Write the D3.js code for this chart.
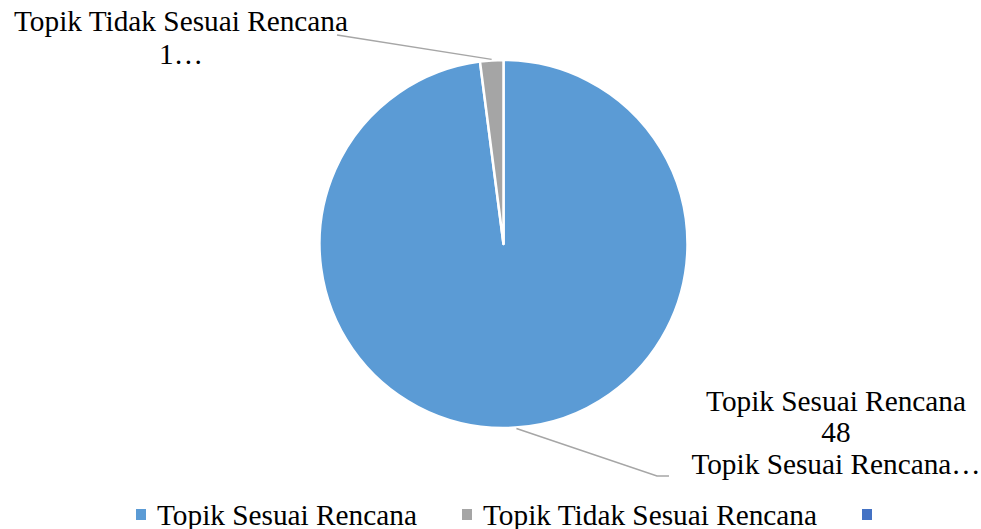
<!DOCTYPE html>
<html><head><meta charset="utf-8">
<script src="https://cdn.jsdelivr.net/npm/d3@7"></script>
<style>body{margin:0;background:#fff}svg{display:block}</style>
</head><body>
<svg id="c" width="981" height="529" font-family="Liberation Serif"></svg>
<script>
const categories = ["Topik Sesuai Rencana", "Topik Tidak Sesuai Rencana", ""];
const values = [48, 1, 0];
const colors = ["#5B9BD5", "#A5A5A5", "#4472C4"];

const svg = d3.select("#c");
const fs = 29.3;
const cx = 503.5, cy = 244, r = 184;

const pie = d3.pie().sort(null).value(d => d.v);
const data = pie(categories.map((c, i) => ({c, v: values[i], col: colors[i]})));
const arc = d3.arc().innerRadius(0).outerRadius(r);
const g = svg.append("g").attr("transform", `translate(${cx},${cy})`);
g.selectAll("path").data(data.filter(d => d.data.v > 0)).join("path")
  .attr("d", arc).attr("fill", d => d.data.col)
  .attr("stroke", "#fff").attr("stroke-width", 2.5).attr("stroke-linejoin", "round");

const lineCol = "#A6A6A6";
function pt(a, rad) { return [Math.sin(a) * rad, -Math.cos(a) * rad]; }
{
  const d = data[1];
  const a = (d.startAngle + d.endAngle) / 2;
  const p0 = pt(a, r + 1);
  g.append("polyline").attr("points", [p0, [337 - cx, 35 - cy]].map(p => p.join(",")).join(" "))
    .attr("fill", "none").attr("stroke", lineCol).attr("stroke-width", 1.5);
  const t = svg.append("text").attr("text-anchor", "middle").attr("font-size", fs).attr("fill", "#000");
  t.append("tspan").attr("x", 181).attr("y", 31).text(categories[1]);
  t.append("tspan").attr("x", 181).attr("y", 64).text(String(values[1])[0] + "…");
}
{
  const a = Math.PI - 0.07;
  const p0 = pt(a, r + 1);
  g.append("polyline").attr("points", [p0, [657 - cx, 476 - cy], [669 - cx, 476 - cy]].map(p => p.join(",")).join(" "))
    .attr("fill", "none").attr("stroke", lineCol).attr("stroke-width", 1.5);
  const t = svg.append("text").attr("text-anchor", "middle").attr("font-size", fs).attr("fill", "#000");
  t.append("tspan").attr("x", 836).attr("y", 411).text(categories[0]);
  t.append("tspan").attr("x", 836).attr("y", 442).text(values[0]);
  t.append("tspan").attr("x", 836).attr("y", 474).text(categories[0] + "…");
}

const legX = [136, 462, 862];
const leg = svg.append("g");
categories.forEach((c, i) => {
  leg.append("rect").attr("x", legX[i]).attr("y", 509).attr("width", 10).attr("height", 11).attr("fill", colors[i]);
  leg.append("text").attr("x", legX[i] + 21).attr("y", 524.5).attr("font-size", fs).attr("fill", "#000").text(c);
});
</script>
</body></html>
